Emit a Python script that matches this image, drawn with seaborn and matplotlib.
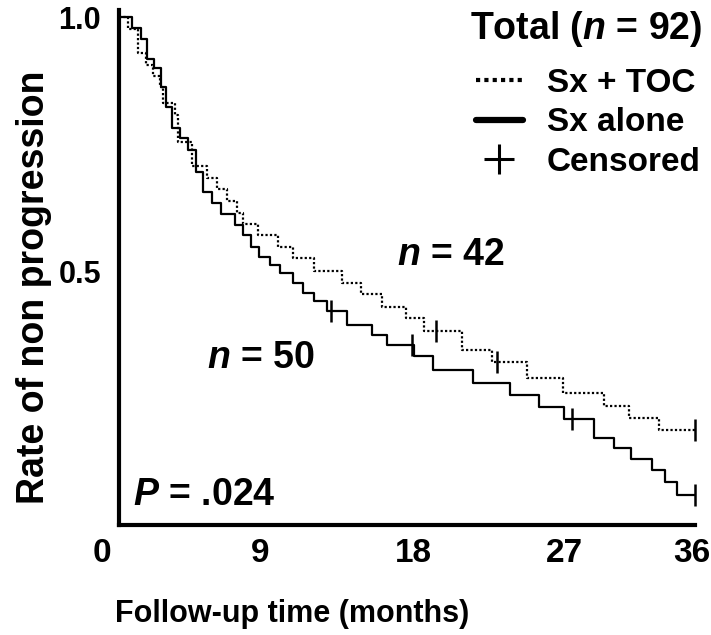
import matplotlib as mpl

mpl.use('Agg')
import pandas as pd
import matplotlib.pyplot as plt
import matplotlib.transforms as mtrans
from matplotlib.lines import Line2D
import seaborn as sns

sns.set_style('white')
plt.rcParams['font.family'] = ['Liberation Sans', 'DejaVu Sans']
plt.rcParams['mathtext.fontset'] = 'custom'
plt.rcParams['mathtext.it'] = 'Liberation Sans:italic:bold'
plt.rcParams['mathtext.rm'] = 'Liberation Sans:bold'
for key in ['text.color', 'axes.labelcolor', 'xtick.color', 'ytick.color']:
    plt.rcParams[key] = 'black'

#### data ####
toc_time = [0, 0.56, 1.19, 1.69, 2.13, 2.56, 2.75, 3.50, 3.69, 4.56,
            5.50, 6.13, 6.75, 7.38, 7.75, 8.69, 9.94, 10.88, 12.19, 13.94,
            15.13, 16.44, 17.94, 19.06, 21.44, 23.31, 25.5, 27.75, 30.31, 31.88,
            33.75, 36]
toc_surv = [1.0, 0.976, 0.929, 0.906, 0.884, 0.862, 0.831, 0.807, 0.754, 0.707,
            0.683, 0.661, 0.638, 0.614, 0.593, 0.571, 0.547, 0.526, 0.500, 0.476,
            0.455, 0.429, 0.407, 0.382, 0.344, 0.321, 0.289, 0.260, 0.234, 0.211,
            0.187, 0.187]
toc_cens_time = [19.81, 23.63, 36]
toc_cens_surv = [0.382, 0.321, 0.187]

alone_time = [0, 0.79, 1.36, 1.75, 2.19, 2.63, 2.94, 3.31, 3.81, 4.31,
              4.81, 5.25, 5.81, 6.38, 7.22, 7.72, 8.22, 8.72, 9.41, 10.06,
              10.88, 11.5, 12.19, 13.0, 14.25, 15.84, 16.78, 18.44, 19.63, 22.13,
              24.44, 26.25, 27.81, 29.69, 30.94, 32.0, 33.31, 34.13, 34.88, 36]
alone_surv = [1.0, 0.978, 0.957, 0.917, 0.900, 0.862, 0.823, 0.781, 0.762, 0.738,
              0.695, 0.656, 0.634, 0.612, 0.591, 0.571, 0.547, 0.528, 0.512, 0.496,
              0.476, 0.457, 0.441, 0.421, 0.394, 0.374, 0.354, 0.333, 0.305, 0.280,
              0.256, 0.232, 0.209, 0.171, 0.152, 0.130, 0.108, 0.085, 0.059, 0.059]
alone_cens_time = [13.25, 18.31, 28.31, 36]
alone_cens_surv = [0.421, 0.354, 0.209, 0.059]

groups = ['Sx + TOC', 'Sx alone']
x_ticks = [0, 9, 18, 27, 36]
########################

curves = pd.concat([
    pd.DataFrame({'time': toc_time, 'surv': toc_surv, 'group': groups[0]}),
    pd.DataFrame({'time': alone_time, 'surv': alone_surv, 'group': groups[1]}),
])
cens = pd.concat([
    pd.DataFrame({'time': toc_cens_time, 'surv': toc_cens_surv, 'group': groups[0]}),
    pd.DataFrame({'time': alone_cens_time, 'surv': alone_cens_surv, 'group': groups[1]}),
])

fig = plt.figure(figsize=(7.11, 6.35), dpi=100)
ax = fig.add_axes([0.1674, 0.1732, 0.810, 0.811])

sns.lineplot(data=curves, x='time', y='surv', style='group',
             dashes={groups[0]: (1, 1), groups[1]: ''},
             color='black', lw=1.6, drawstyle='steps-post',
             estimator=None, sort=False, legend=False, ax=ax)
sns.scatterplot(data=cens, x='time', y='surv', marker='|', s=230,
                color='black', linewidth=1.8, legend=False, ax=ax,
                clip_on=False, zorder=5)

ax.set_xlim(0, 36)
ax.set_ylim(0, 1.014)
ax.set_xticks(x_ticks)
ax.set_yticks([0.5, 1.0])
ax.set_yticklabels(['0.5', '1.0'], fontsize=22, fontweight='bold')
ax.set_xticklabels([str(i) for i in x_ticks], fontsize=24, fontweight='bold')
ax.tick_params(axis='both', length=0)
ax.tick_params(axis='x', pad=9)
ax.tick_params(axis='y', pad=13)
# the printed tick numbers sit a little off their grid positions
label_shift = [-17, -3, 6, 13, -3]
for lab, dx in zip(ax.get_xticklabels(), label_shift):
    lab.set_transform(lab.get_transform() +
                      mtrans.ScaledTranslation(dx / 100, 0, fig.dpi_scale_trans))

ax.set_xlabel('Follow-up time (months)', fontsize=22, fontweight='bold')
ax.set_ylabel('Rate of non progression', fontsize=27, fontweight='bold')
ax.xaxis.set_label_coords(0.30, -0.143)
ax.yaxis.set_label_coords(-0.116, 0.462)

for s in ['left', 'bottom']:
    ax.spines[s].set_linewidth(3)
    ax.spines[s].set_color('black')
ax.spines['right'].set_color('none')
ax.spines['top'].set_color('none')

ax.text(17.4, 0.512, '$n$ = 42', fontsize=27, fontweight='bold')
ax.text(5.5, 0.309, '$n$ = 50', fontsize=27, fontweight='bold')
ax.text(0.88, 0.039, '$P$ = .024', fontsize=27, fontweight='bold')

fig.text(470 / 711, 1 - 39 / 635, 'Total ($n$ = 92)', ha='left',
         va='baseline', fontsize=27, fontweight='bold')
handles = [Line2D([], [], color='black', lw=3, dashes=(1, 1)),
           Line2D([], [], color='black', lw=4.5),
           Line2D([], [], color='black', marker='+', ms=21, mew=2.2,
                  ls='none')]
leg = ax.legend(handles, groups + ['Censored'],
                loc='upper left', bbox_to_anchor=(476 / 711, 1 - 68 / 635),
                bbox_transform=fig.transFigure, frameon=False,
                prop={'size': 24, 'weight': 'bold'}, labelcolor='black',
                handlelength=1.4, handletextpad=0.72,
                labelspacing=0.25, borderpad=0, borderaxespad=0)

plt.savefig('out.png', dpi=100)
